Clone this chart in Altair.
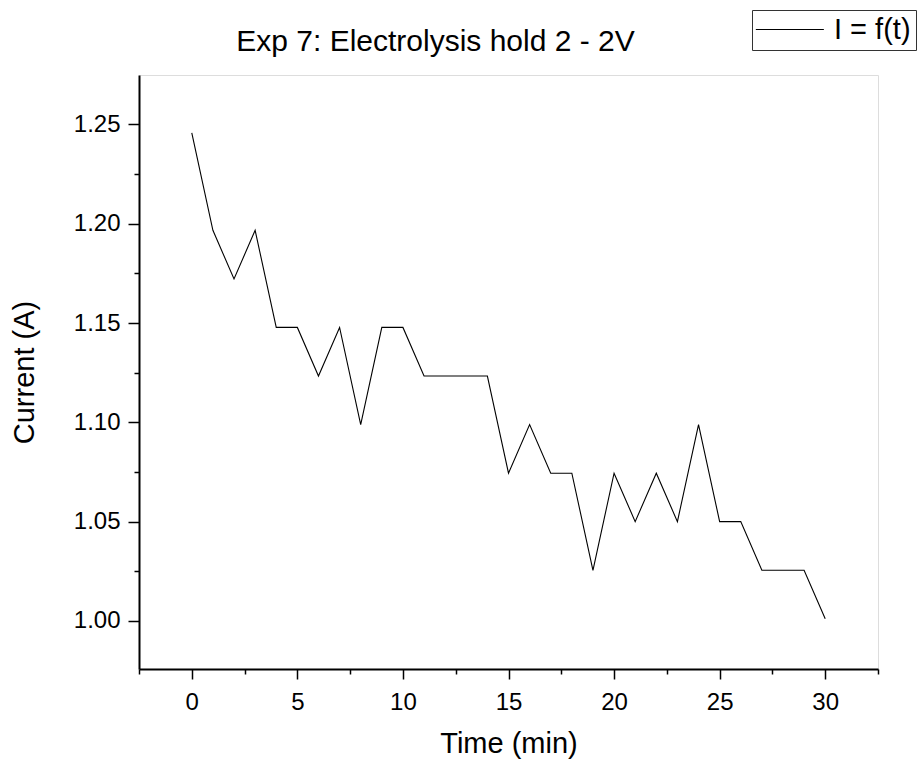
import altair as alt
import pandas as pd

time_min = list(range(31))
current_a = [1.2457, 1.1967, 1.1722, 1.1967, 1.1478, 1.1478, 1.1233, 1.1478,
             1.0989, 1.1478, 1.1478, 1.1233, 1.1233, 1.1233, 1.1233, 1.0744,
             1.0989, 1.0744, 1.0744, 1.0255, 1.0744, 1.0500, 1.0744, 1.0500,
             1.0989, 1.0500, 1.0500, 1.0255, 1.0255, 1.0255, 1.0011]
series_name = ["I = f(t)"] * len(time_min)

x_ticks = [-2.5 + 2.5 * i for i in range(15)]
y_ticks = [1.0, 1.025, 1.05, 1.075, 1.1, 1.125, 1.15, 1.175, 1.2, 1.225, 1.25]

df = pd.DataFrame({"t": time_min, "I": current_a, "s": series_name})

FONT = "Liberation Sans"

x_axis = alt.Axis(
    values=x_ticks,
    title="Time (min)",
    labelExpr="datum.value % 5 === 0 ? datum.label : ''",
    tickSize={"condition": {"test": "datum.value % 5 !== 0", "value": 5}, "value": 10},
    grid=False,
    domainColor="black", domainWidth=2,
    tickColor="black", tickWidth=1.5,
    labelFont=FONT, labelFontSize=24, labelColor="black", labelPadding=11,
    titleFont=FONT, titleFontSize=29, titleFontWeight="normal", titleColor="black",
    titlePadding=15,
)

minor_y = "abs(datum.value*20 - round(datum.value*20)) > 0.001"
y_axis = alt.Axis(
    values=y_ticks,
    title="Current (A)",
    labelExpr="abs(datum.value*20 - round(datum.value*20)) < 0.001 ? format(datum.value, '.2f') : ''",
    tickSize={"condition": {"test": minor_y, "value": 5}, "value": 11},
    grid=False,
    domainColor="black", domainWidth=2,
    tickColor="black", tickWidth=1.5,
    labelFont=FONT, labelFontSize=24, labelColor="black", labelPadding=8,
    titleFont=FONT, titleFontSize=29, titleFontWeight="normal", titleColor="black",
    titlePadding=34,
)

chart = (
    alt.Chart(df)
    .mark_line(strokeWidth=1.1)
    .encode(
        x=alt.X("t:Q", scale=alt.Scale(domain=[-2.5, 32.5], nice=False, zero=False), axis=x_axis),
        y=alt.Y("I:Q", scale=alt.Scale(domain=[0.9758, 1.2749], nice=False, zero=False), axis=y_axis),
        color=alt.Color(
            "s:N",
            scale=alt.Scale(range=["black"]),
            legend=alt.Legend(
                title=None,
                orient="none",
                legendX=613,
                legendY=-65,
                symbolType="M-2.3,0H7.7",
                symbolSize=185,
                symbolStrokeWidth=1,
                symbolFillColor="transparent",
                labelFont=FONT,
                labelFontSize=29,
                labelColor="black",
                labelOffset=48,
                padding=5,
                strokeColor="#333333",
                fillColor="white",
            ),
        ),
    )
    .properties(
        width=739,
        height=594,
        title=alt.TitleParams(
            text="Exp 7: Electrolysis hold 2 - 2V",
            font=FONT,
            fontSize=30,
            fontWeight="normal",
            color="black",
            anchor="middle",
            frame="group",
            dx=-73,
            baseline="alphabetic",
            offset=-71,
        ),
        autosize=alt.AutoSizeParams(type="none"),
        padding={"left": 139, "top": 75, "right": 42, "bottom": 98},
    )
    .configure_view(stroke=None)
    .configure(background="white")
)

chart.save("out.html", embed_options={"renderer": "svg", "actions": False})
